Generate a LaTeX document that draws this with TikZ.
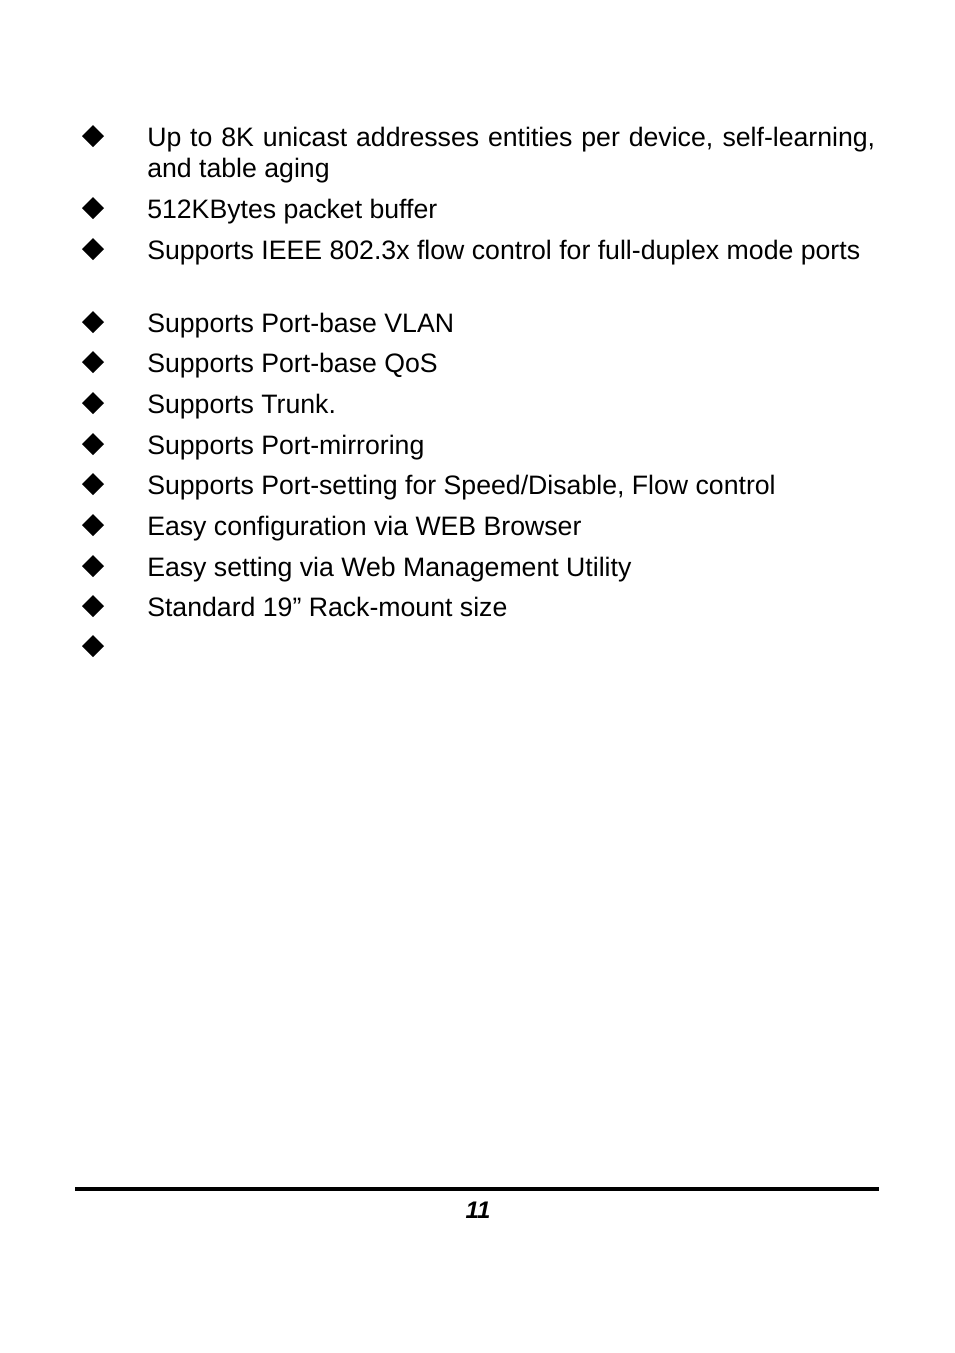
\documentclass[tikz,border=0pt]{standalone}
\usepackage{fontspec}
\setmainfont{Liberation Sans}
\begin{document}
\begin{tikzpicture}[x=0.75pt,y=-0.75pt,
  item/.style={anchor=base west,inner sep=0pt,font=\fontsize{20}{23.25}\selectfont},
  para/.style={item,text width=546pt,align=justify},
  bul/.style={fill=black}]
\useasboundingbox (0,0) rectangle (954,1353);
\foreach \y in {136,208,249,322,362,403,444,484,525,566,606,646}
  \fill (93,\y-11) -- (104,\y) -- (93,\y+11) -- (82,\y) -- cycle;
\node[para] (t1) at (147,146) {Up to 8K unicast addresses entities per device, self-learning, and table aging};
\node[item] (t2) at (147,218) {512KBytes packet buffer};
\node[para] (t3) at (147,259) {Supports IEEE 802.3x flow control for full-duplex mode ports};
\node[item] (t4) at (147,332) {Supports Port-base VLAN};
\node[item] (t5) at (147,372) {Supports Port-base QoS};
\node[item] (t6) at (147,413) {Supports Trunk.};
\node[item] (t7) at (147,454) {Supports Port-mirroring};
\node[item] (t8) at (147,494) {Supports Port-setting for Speed/Disable, Flow control};
\node[item] (t9) at (147,535) {Easy configuration via WEB Browser};
\node[item] (t10) at (147,576) {Easy setting via Web Management Utility};
\node[item] (t11) at (147,616) {Standard 19” Rack-mount size};
\draw[line width=2.5pt] (75,1189) -- (879,1189);
\node[anchor=base,inner sep=0pt,font=\fontsize{18}{20}\selectfont\bfseries\itshape] (pg) at (478,1218) {11};
\end{tikzpicture}
\end{document}
